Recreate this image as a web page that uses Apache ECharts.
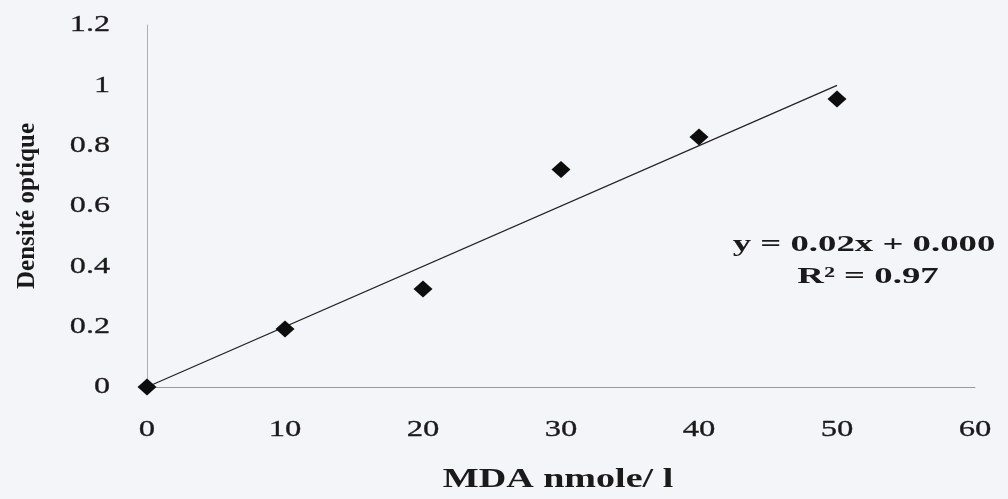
<!DOCTYPE html>
<html>
<head>
<meta charset="utf-8">
<script src="https://cdn.jsdelivr.net/npm/echarts@6/dist/echarts.min.js"></script>
<style>
  html, body { margin: 0; padding: 0; background: #f4f5f8; }
  #chart { width: 1008px; height: 499px; }
</style>
</head>
<body>
<div id="chart"></div>
<script>
// Calibration points: MDA concentration (nmole/l) vs optical density
const mdaConc = [0, 10, 20, 30, 40, 50];
const opticalDensity = [0, 0.192, 0.325, 0.721, 0.829, 0.955];

// Linear trend as reported on the chart
const trendSlope = 0.02;
const trendIntercept = 0.0;
const trendRange = [0, 50];
const equationText = 'y = 0.02x + 0.000';
const r2Text = 'R² = 0.97';

// Tick values and their labels
const xTickValues = [0, 10, 20, 30, 40, 50, 60];
const xTickLabels = ['0', '10', '20', '30', '40', '50', '60'];
const yTickValues = [0, 0.2, 0.4, 0.6, 0.8, 1.0, 1.2];
const yTickLabels = ['0', '0.2', '0.4', '0.6', '0.8', '1', '1.2'];

const xTitle = 'MDA nmole/ l';
const yTitle = 'Densité optique';

const points = mdaConc.map((x, i) => [x, opticalDensity[i]]);
const trendPoints = trendRange.map(x => [x, trendSlope * x + trendIntercept]);

const serif = '"Liberation Serif", "DejaVu Serif", serif';
const ink = '#1a1a1a';
const chart = echarts.init(document.getElementById('chart'));

chart.setOption({
  backgroundColor: '#f4f5f8',
  animation: false,
  grid: { left: 147, right: 33, top: 25, bottom: 112 },
  xAxis: {
    type: 'value',
    min: xTickValues[0], max: xTickValues[xTickValues.length - 1], interval: 10,
    axisLine: { show: true, lineStyle: { color: '#9a9a9a', width: 1 } },
    axisTick: { show: false },
    splitLine: { show: false },
    axisLabel: { show: false }
  },
  yAxis: {
    type: 'value',
    min: yTickValues[0], max: yTickValues[yTickValues.length - 1], interval: 0.2,
    axisLine: { show: true, lineStyle: { color: '#b0b0b0', width: 1 } },
    axisTick: { show: false },
    splitLine: { show: false },
    axisLabel: { show: false }
  },
  series: [
    {
      type: 'line',
      data: trendPoints,
      showSymbol: false,
      lineStyle: { color: '#222', width: 1.3 },
      z: 2
    },
    {
      type: 'scatter',
      data: points,
      symbol: 'diamond',
      symbolSize: [19, 17],
      itemStyle: { color: '#0d0d0d', opacity: 1 },
      z: 3
    }
  ]
});

// Wide serif text, stretched horizontally
function wideText(text, x, y, font, sx, align, weight) {
  return {
    type: 'text',
    x: x, y: y,
    scaleX: sx, scaleY: 1,
    silent: true,
    style: {
      text: text, font: font, fill: ink,
      stroke: ink, lineWidth: weight || 0,
      align: align, textAlign: align,
      verticalAlign: 'middle', textVerticalAlign: 'middle'
    }
  };
}

const graphics = [];
const tickFont = '24px ' + serif;

xTickValues.forEach((v, i) => {
  const p = chart.convertToPixel({ gridIndex: 0 }, [v, 0]);
  graphics.push(wideText(xTickLabels[i], p[0], p[1] + 43, tickFont, 1.36, 'center', 0.3));
});
yTickValues.forEach((v, i) => {
  const p = chart.convertToPixel({ gridIndex: 0 }, [0, v]);
  graphics.push(wideText(yTickLabels[i], p[0] - 37, p[1], tickFont, 1.34, 'right', 0.3));
});

graphics.push(wideText(xTitle, 558, 480, 'bold 27px ' + serif, 1.41, 'center'));
graphics.push(wideText(equationText, 864, 245, 'bold 23px ' + serif, 1.6, 'center'));
graphics.push(wideText(r2Text, 868, 277, 'bold 23px ' + serif, 1.6, 'center'));
graphics.push({
  type: 'text',
  x: 28, y: 206,
  rotation: Math.PI / 2,
  silent: true,
  style: {
    text: yTitle, font: 'bold 25px ' + serif, fill: ink,
    align: 'center', textAlign: 'center',
    verticalAlign: 'middle', textVerticalAlign: 'middle'
  }
});

chart.setOption({ graphic: graphics });
</script>
</body>
</html>
